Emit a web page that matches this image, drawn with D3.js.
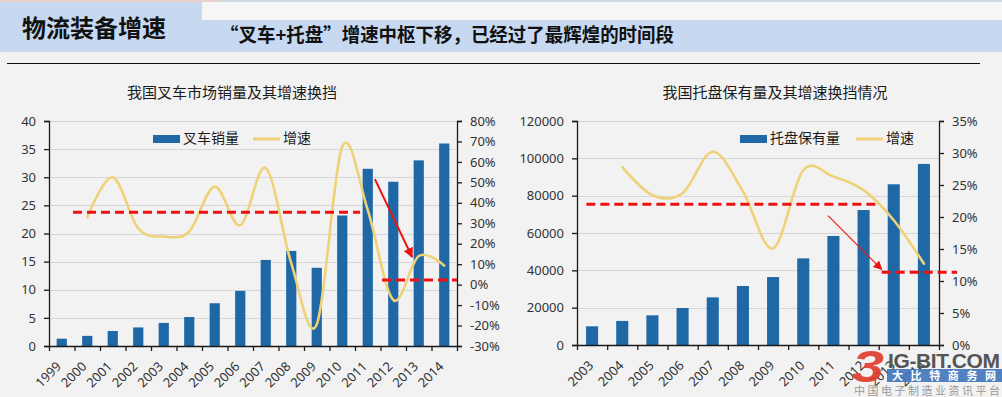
<!DOCTYPE html>
<html><head><meta charset="utf-8">
<script src="https://cdn.jsdelivr.net/npm/d3@7"></script>
<style>body{margin:0;background:#f2f2f2;} svg{display:block}</style>
</head><body><svg id="c" width="1002" height="397"></svg>
<script>
// ---- data ----
const forkliftYears = ["1999","2000","2001","2002","2003","2004","2005","2006","2007","2008","2009","2010","2011","2012","2013","2014"];
const forkliftSales = [1.3,1.8,2.67,3.3,4.1,5.15,7.6,9.8,15.3,16.9,13.9,23.2,31.5,29.2,33.0,36.0];
const forkliftGrowth = [null,33,52.5,27.5,23.5,26,48,29,57,10.5,-19.5,67.5,36.5,-7.5,14,9.3];
const forkliftLeftTicks = [0,5,10,15,20,25,30,35,40];
const forkliftRightTicks = [-30,-20,-10,0,10,20,30,40,50,60,70,80];
const forkliftLevels = [{v:35.4,from:0.44,to:11.7},{v:2.3,from:12.56,to:15.5}];
const forkliftArrow = {from:[12.28,51.6], to:[13.74,13.5]};

const palletYears = ["2003","2004","2005","2006","2007","2008","2009","2010","2011","2012","2013","2014"];
const palletStock = [10000,12900,15900,19800,25500,31600,36400,46400,58400,72300,86100,97000];
const palletGrowth = [null,27.8,23.4,23.7,30.2,24,15.1,27.3,26.3,24.2,19.5,12.7];
const palletLeftTicks = [0,20000,40000,60000,80000,100000,120000];
const palletRightTicks = [0,5,10,15,20,25,30,35];
const palletLevels = [{v:22,from:-0.19,to:9.54},{v:11.35,from:9.6,to:12.1}];
const palletArrow = {from:[7.82,20.2], to:[9.6,11.8]};

// ---- styles ----
const BAR = "#1f68a6", LINE = "#efd277", RED = "#ee1111";
const CJK = "'Noto Sans CJK SC','Noto Sans',sans-serif";
const NUM = "'Noto Sans','DejaVu Sans',sans-serif";

const svg = d3.select("#c");
svg.append("rect").attr("width",1002).attr("height",397).attr("fill","#f2f2f2");

// header
svg.append("rect").attr("x",0).attr("y",0).attr("width",220).attr("height",2).attr("fill","#e9d2cc");
svg.append("rect").attr("x",220).attr("y",0).attr("width",782).attr("height",2).attr("fill","#cfd8e0");
svg.append("rect").attr("x",202).attr("y",2).attr("width",800).attr("height",18).attr("fill","#f6f6f6");
svg.append("path").attr("d","M0,2H202V20H1002V52H0Z").attr("fill","#c6d9f0");
svg.append("text").attr("x",22).attr("y",36.5).attr("font-family",CJK).attr("font-weight",700)
  .attr("font-size",24).attr("fill","#111").text("物流装备增速");
svg.append("text").attr("x",220).attr("y",42).attr("font-family",CJK).attr("font-weight",700)
  .attr("font-size",19).attr("fill","#111").attr("textLength",454).attr("lengthAdjust","spacingAndGlyphs")
  .text("“叉车+托盘”增速中枢下移，已经过了最辉煌的时间段");
svg.append("line").attr("x1",7).attr("x2",980).attr("y1",63.5).attr("y2",63.5).attr("stroke","#111").attr("stroke-width",1.2);

// markers
const defs = svg.append("defs");
function marker(id,size){
  defs.append("marker").attr("id",id).attr("viewBox","0 0 10 10").attr("refX",9).attr("refY",5)
    .attr("markerWidth",size).attr("markerHeight",size).attr("orient","auto").attr("markerUnits","userSpaceOnUse")
    .append("path").attr("d","M0,0L10,5L0,10Z").attr("fill",RED);
}
marker("arrA",10); marker("arrB",9);

function drawChart(o){
  const g = svg.append("g");
  const n = o.years.length;
  const xb = d3.scaleBand().domain(o.years).range([o.x0,o.x1]).padding(0);
  const xi = d3.scaleLinear().domain([-0.5,n-0.5]).range([o.x0,o.x1]); // index → center
  const yl = d3.scaleLinear().domain(o.lDomain).range([o.y1,o.y0]);
  const yr = d3.scaleLinear().domain(o.rDomain).range([o.y1,o.y0]);

  // title
  g.append("text").attr("x",o.titleX).attr("y",97.5).attr("text-anchor","middle")
    .attr("font-family",CJK).attr("font-size",15).attr("fill","#1a1a1a").text(o.title);

  // gridlines
  g.selectAll(".grid").data(o.lTicks.filter(d=>d!==o.lDomain[0])).join("line")
    .attr("x1",o.x0).attr("x2",o.x1).attr("y1",d=>Math.round(yl(d))+0.5).attr("y2",d=>Math.round(yl(d))+0.5)
    .attr("stroke","#d6d6d6").attr("stroke-width",1);

  // bars
  const bw = xb.bandwidth()*0.4;
  g.selectAll(".bar").data(o.values).join("rect")
    .attr("x",(d,i)=>xb(o.years[i])+xb.bandwidth()/2-bw/2).attr("width",bw)
    .attr("y",d=>yl(d)).attr("height",d=>yl(0)-yl(d)).attr("fill",BAR);

  // axes
  const axL = g.append("g").attr("transform",`translate(${o.x0},0)`)
    .call(d3.axisLeft(yl).tickValues(o.lTicks).tickSize(5).tickPadding(8).tickFormat(d3.format("d")));
  const axR = g.append("g").attr("transform",`translate(${o.x1},0)`)
    .call(d3.axisRight(yr).tickValues(o.rTicks).tickSize(5).tickPadding(8).tickFormat(d=>d+"%"));
  const bnd = d3.range(n+1).map(i=>i-0.5);
  const axB = g.append("g").attr("transform",`translate(0,${o.y1})`)
    .call(d3.axisBottom(xi).tickValues(bnd).tickSize(5).tickFormat(""));
  [axL,axR,axB].forEach(a=>{
    a.select(".domain").attr("stroke","#1a1a1a").attr("stroke-width",1.3);
    a.selectAll(".tick line").attr("stroke","#1a1a1a").attr("stroke-width",1.3);
    a.selectAll("text").attr("font-family",NUM).attr("font-size",13).attr("fill","#333");
  });
  axB.select(".domain").attr("d",`M${o.x0},0.5H${o.x1}`);

  // x labels
  g.selectAll(".xl").data(o.years).join("text")
    .attr("transform",d=>`translate(${xb(d)+xb.bandwidth()/2+o.lblDx},${o.y1+18}) rotate(-45)`)
    .attr("text-anchor","end").attr("dy","0.35em")
    .attr("font-family",NUM).attr("font-size",13).attr("fill","#333").text(d=>d);

  // growth line
  const pts = o.growth.map((v,i)=>[xi(i),v]).filter(p=>p[1]!==null).map(p=>[p[0],yr(p[1])]);
  g.append("path").attr("d",d3.line().curve(d3.curveCardinal.tension(0))(pts))
    .attr("fill","none").attr("stroke",LINE).attr("stroke-width",2.6).attr("stroke-linecap","round");

  // red dashed levels
  o.levels.forEach(l=>{
    g.append("line").attr("x1",xi(l.from)).attr("x2",xi(l.to)).attr("y1",yr(l.v)).attr("y2",yr(l.v))
      .attr("stroke",RED).attr("stroke-width",3).attr("stroke-dasharray","9,5");
  });
  // arrow
  g.append("line").attr("x1",xi(o.arrow.from[0])).attr("y1",yr(o.arrow.from[1]))
    .attr("x2",xi(o.arrow.to[0])).attr("y2",yr(o.arrow.to[1]))
    .attr("stroke",RED).attr("stroke-width",o.arrowW).attr("marker-end",`url(#${o.marker})`);

  // legend
  const lg = g.append("g");
  lg.append("rect").attr("x",o.legX).attr("y",135).attr("width",27).attr("height",8).attr("fill",BAR);
  lg.append("text").attr("x",o.legX+30).attr("y",142.5).attr("font-family",CJK).attr("font-size",14)
    .attr("fill","#1a1a1a").text(o.barName);
  lg.append("line").attr("x1",o.legX2).attr("x2",o.legX2+27).attr("y1",139).attr("y2",139)
    .attr("stroke",LINE).attr("stroke-width",3);
  lg.append("text").attr("x",o.legX2+30).attr("y",142.5).attr("font-family",CJK).attr("font-size",14)
    .attr("fill","#1a1a1a").text("增速");
}

drawChart({years:forkliftYears, values:forkliftSales, growth:forkliftGrowth,
  x0:49, x1:457, y0:121, y1:346, lDomain:[0,40], rDomain:[-30,80],
  lTicks:forkliftLeftTicks, rTicks:forkliftRightTicks, levels:forkliftLevels, arrow:forkliftArrow,
  arrowW:2, marker:"arrA", title:"我国叉车市场销量及其增速换挡", titleX:232,
  barName:"叉车销量", legX:153, legX2:253, lblDx:-3});

drawChart({years:palletYears, values:palletStock, growth:palletGrowth,
  x0:577, x1:939, y0:121, y1:345, lDomain:[0,120000], rDomain:[0,35],
  lTicks:palletLeftTicks, rTicks:palletRightTicks, levels:palletLevels, arrow:palletArrow,
  arrowW:1.1, marker:"arrB", title:"我国托盘保有量及其增速换挡情况", titleX:775,
  barName:"托盘保有量", legX:740, legX2:856, lblDx:-1});

// watermark
const wm = svg.append("g");
wm.append("text").attr("x",852).attr("y",382).attr("font-family","'Liberation Sans',sans-serif")
  .attr("font-weight",700).attr("font-style","italic").attr("font-size",44).attr("fill","#e0392b")
  .attr("opacity",0.9).attr("textLength",32).attr("lengthAdjust","spacingAndGlyphs").text("3");
wm.append("text").attr("x",888).attr("y",368).attr("font-family","'Liberation Sans',sans-serif")
  .attr("font-weight",700).attr("font-size",21).attr("fill","#555").attr("textLength",112).text("IG-BIT.COM");
wm.append("rect").attr("x",887).attr("y",369).attr("width",115).attr("height",13).attr("fill","#3f74bb").attr("opacity",0.9);
wm.append("text").attr("x",892).attr("y",380).attr("font-family",CJK).attr("font-weight",700)
  .attr("font-size",11).attr("fill","#fff").attr("textLength",104).text("大比特商务网");
wm.append("text").attr("x",854).attr("y",395).attr("font-family",CJK)
  .attr("font-size",11).attr("fill","#9a9a9a").attr("textLength",146).text("中国电子制造业资讯平台");
</script></body></html>
